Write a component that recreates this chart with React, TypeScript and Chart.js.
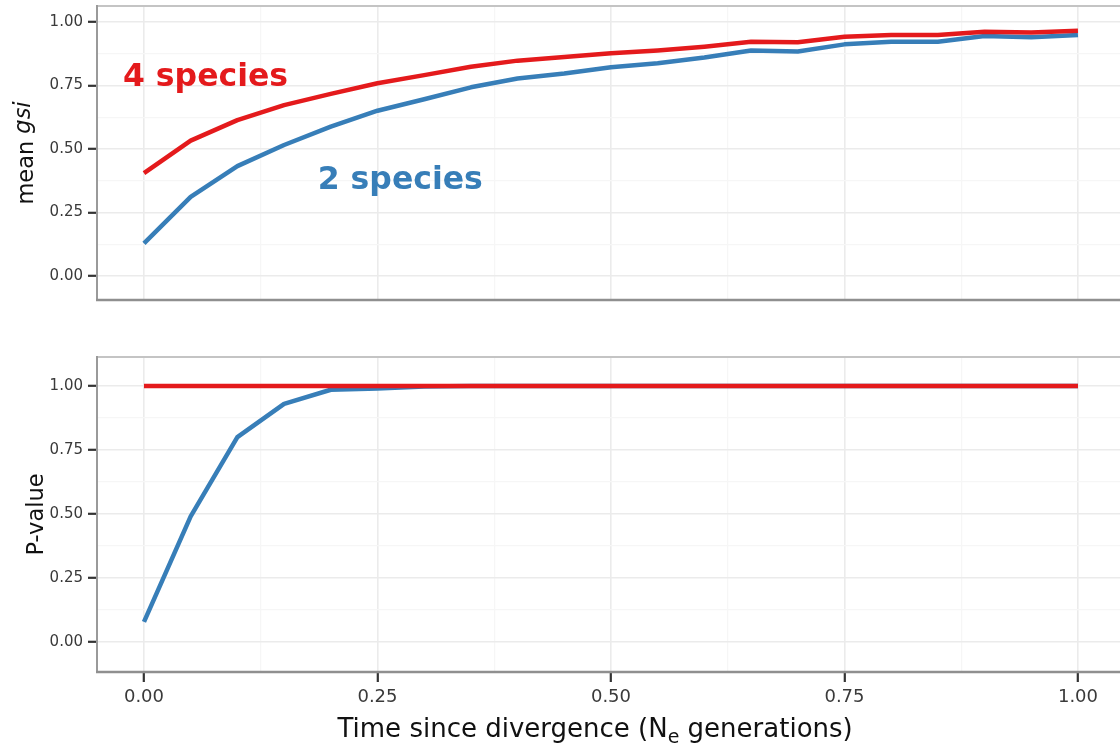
import React, { useEffect, useRef } from 'react';
import { Chart, registerables } from 'chart.js';

Chart.register(...registerables);

// ---------- data ----------
const times = [0, 0.05, 0.1, 0.15, 0.2, 0.25, 0.3, 0.35, 0.4, 0.45, 0.5, 0.55, 0.6, 0.65, 0.7, 0.75, 0.8, 0.85, 0.9, 0.95, 1.0];
const gsiTwo = [0.129, 0.312, 0.433, 0.516, 0.588, 0.651, 0.696, 0.743, 0.778, 0.797, 0.822, 0.838, 0.86, 0.888, 0.884, 0.912, 0.922, 0.922, 0.945, 0.94, 0.949];
const gsiFour = [0.405, 0.533, 0.614, 0.673, 0.717, 0.759, 0.791, 0.824, 0.848, 0.862, 0.877, 0.888, 0.903, 0.922, 0.92, 0.942, 0.949, 0.949, 0.962, 0.959, 0.966];
const pTwo = [0.078, 0.49, 0.8, 0.93, 0.985, 0.99, 0.998, 1, 1, 1, 1, 1, 1, 1, 1, 1, 1, 1, 1, 1, 1];
const pFour = [1, 1, 1, 1, 1, 1, 1, 1, 1, 1, 1, 1, 1, 1, 1, 1, 1, 1, 1, 1, 1];
const gridValues = [0, 0.125, 0.25, 0.375, 0.5, 0.625, 0.75, 0.875, 1];
const labelFour = '4 species';
const labelTwo = '2 species';
const topYTitle = ['mean ', 'gsi'];
const bottomYTitle = 'P-value';
const xTitle = ['Time since divergence (N', 'e', ' generations)'];

// ---------- style ----------
const FONT = '"DejaVu Sans", Verdana, sans-serif';
const RED = '#e41a1c';
const BLUE = '#377eb8';

const isMajor = (v: number) => Math.abs(v * 4 - Math.round(v * 4)) < 1e-6;

function setGridTicks(scale: any) {
  scale.ticks = gridValues.map((v) => ({ value: v }));
}

function gridOpts(tickLen: number) {
  return {
    color: (c: any) => (c.tick && isMajor(c.tick.value) ? '#ebebeb' : '#f6f6f6'),
    lineWidth: (c: any) => (c.tick && isMajor(c.tick.value) ? 1.6 : 1.2),
    tickColor: (c: any) => (c.tick && isMajor(c.tick.value) ? '#333333' : 'rgba(0,0,0,0)'),
    tickLength: tickLen,
    tickWidth: 2.2,
    drawTicks: tickLen > 0,
  };
}

function zeroPad(s: any) {
  s.paddingTop = 0;
  s.paddingBottom = 0;
  s.paddingLeft = 0;
  s.paddingRight = 0;
}

function panelPlugin(opts: { ytitle: (ctx: CanvasRenderingContext2D, area: any) => void; extra?: (chart: any) => void }) {
  return {
    id: 'panelDeco',
    afterDatasetsDraw(chart: any) {
      const { ctx, chartArea: a } = chart;
      ctx.save();
      ctx.lineCap = 'butt';
      ctx.strokeStyle = '#c4c4c4';
      ctx.lineWidth = 2;
      ctx.beginPath();
      ctx.moveTo(a.left, a.top);
      ctx.lineTo(a.right + 10, a.top);
      ctx.stroke();
      ctx.strokeStyle = '#9a9a9a';
      ctx.lineWidth = 2;
      ctx.beginPath();
      ctx.moveTo(a.left, a.top - 1);
      ctx.lineTo(a.left, a.bottom);
      ctx.stroke();
      ctx.strokeStyle = '#8f8f8f';
      ctx.lineWidth = 2.6;
      ctx.beginPath();
      ctx.moveTo(a.left - 1, a.bottom);
      ctx.lineTo(a.right + 10, a.bottom);
      ctx.stroke();
      opts.ytitle(ctx, a);
      if (opts.extra) opts.extra(chart);
      ctx.restore();
    },
  };
}

function yScale(min: number, max: number) {
  return {
    type: 'linear',
    min,
    max,
    afterBuildTicks: setGridTicks,
    afterFit: (s: any) => {
      s.width = 97;
      zeroPad(s);
    },
    border: { display: false },
    grid: gridOpts(9),
    ticks: {
      autoSkip: false,
      padding: 5,
      color: '#3a3a3a',
      font: { family: FONT, size: 15 },
      callback: (v: any) => (isMajor(Number(v)) ? Number(v).toFixed(2) : ''),
    },
  };
}

const X_MIN = -0.0503;
const X_MAX = 1.045;

function lineDataset(label: string, ys: number[], color: string) {
  return {
    label,
    data: times.map((t, i) => ({ x: t, y: ys[i] })),
    borderColor: color,
    borderWidth: 4.5,
    pointRadius: 0,
    tension: 0,
    borderJoinStyle: 'round',
  };
}

function TopPanel() {
  const ref = useRef<HTMLCanvasElement>(null);
  useEffect(() => {
    const chart = new Chart(ref.current!, {
      type: 'line',
      data: {
        datasets: [lineDataset(labelFour, gsiFour, RED), lineDataset(labelTwo, gsiTwo, BLUE)],
      },
      options: {
        animation: false,
        responsive: false,
        events: [],
        layout: { padding: { top: 6, bottom: 10, left: 0, right: 0 } },
        plugins: { legend: { display: false }, tooltip: { enabled: false } },
        scales: {
          x: {
            type: 'linear',
            min: X_MIN,
            max: X_MAX,
            afterBuildTicks: setGridTicks,
            afterFit: (s: any) => {
              s.height = 0;
              zeroPad(s);
            },
            border: { display: false },
            grid: gridOpts(0),
            ticks: { display: false },
          },
          y: yScale(-0.094, 1.063),
        },
      } as any,
      plugins: [
        panelPlugin({
          ytitle: (ctx, a) => {
            ctx.font = `22.5px ${FONT}`;
            const w1 = ctx.measureText(topYTitle[0]).width;
            ctx.font = `italic 22.5px ${FONT}`;
            const w2 = ctx.measureText(topYTitle[1]).width;
            const cy = (a.top + a.bottom) / 2;
            ctx.translate(33, cy);
            ctx.rotate(-Math.PI / 2);
            ctx.fillStyle = '#111';
            ctx.textBaseline = 'alphabetic';
            ctx.textAlign = 'left';
            const start = -(w1 + w2) / 2;
            ctx.font = `22.5px ${FONT}`;
            ctx.fillText(topYTitle[0], start, 0);
            ctx.font = `italic 22.5px ${FONT}`;
            ctx.fillText(topYTitle[1], start + w1, -3);
            ctx.setTransform(1, 0, 0, 1, 0, 0);
          },
          extra: (chart) => {
            const { ctx, scales } = chart;
            ctx.font = `bold 31.5px ${FONT}`;
            ctx.textAlign = 'left';
            ctx.textBaseline = 'alphabetic';
            ctx.fillStyle = RED;
            ctx.fillText(labelFour, scales.x.getPixelForValue(-0.0225), scales.y.getPixelForValue(0.75));
            ctx.fillStyle = BLUE;
            ctx.fillText(labelTwo, scales.x.getPixelForValue(0.186), scales.y.getPixelForValue(0.343));
          },
        }),
      ],
    });
    return () => chart.destroy();
  }, []);
  return <canvas ref={ref} width={1120} height={310} style={{ position: 'absolute', left: 0, top: 0 }} />;
}

function BottomPanel() {
  const ref = useRef<HTMLCanvasElement>(null);
  useEffect(() => {
    const chart = new Chart(ref.current!, {
      type: 'line',
      data: {
        datasets: [lineDataset(labelFour, pFour, RED), lineDataset(labelTwo, pTwo, BLUE)],
      },
      options: {
        animation: false,
        responsive: false,
        events: [],
        layout: { padding: { top: 17, bottom: 0, left: 0, right: 0 } },
        plugins: { legend: { display: false }, tooltip: { enabled: false } },
        scales: {
          x: {
            type: 'linear',
            min: X_MIN,
            max: X_MAX,
            afterBuildTicks: setGridTicks,
            afterFit: (s: any) => {
              s.height = 74;
              zeroPad(s);
            },
            border: { display: false },
            grid: gridOpts(10),
            ticks: {
              autoSkip: false,
              maxRotation: 0,
              padding: 5,
              color: '#3a3a3a',
              font: { family: FONT, size: 18 },
              callback: (v: any) => (isMajor(Number(v)) ? Number(v).toFixed(2) : ''),
            },
          },
          y: yScale(-0.118, 1.113),
        },
      } as any,
      plugins: [
        panelPlugin({
          ytitle: (ctx, a) => {
            ctx.font = `22.5px ${FONT}`;
            const cy = (a.top + a.bottom) / 2;
            ctx.translate(43, cy);
            ctx.rotate(-Math.PI / 2);
            ctx.fillStyle = '#111';
            ctx.textAlign = 'center';
            ctx.textBaseline = 'alphabetic';
            ctx.fillText(bottomYTitle, 0, 0);
            ctx.setTransform(1, 0, 0, 1, 0, 0);
          },
          extra: (chart) => {
            const { ctx, scales } = chart;
            const main = `26px ${FONT}`;
            const sub = `19px ${FONT}`;
            ctx.font = main;
            const w1 = ctx.measureText(xTitle[0]).width;
            const w3 = ctx.measureText(xTitle[2]).width;
            ctx.font = sub;
            const w2 = ctx.measureText(xTitle[1]).width;
            const cx = scales.x.getPixelForValue(0.483);
            const base = 397;
            let x = cx - (w1 + w2 + w3) / 2;
            ctx.fillStyle = '#111';
            ctx.textAlign = 'left';
            ctx.textBaseline = 'alphabetic';
            ctx.font = main;
            ctx.fillText(xTitle[0], x, base);
            x += w1;
            ctx.font = sub;
            ctx.fillText(xTitle[1], x, base + 6);
            x += w2;
            ctx.font = main;
            ctx.fillText(xTitle[2], x, base);
          },
        }),
      ],
    });
    return () => chart.destroy();
  }, []);
  return <canvas ref={ref} width={1120} height={406} style={{ position: 'absolute', left: 0, top: 340 }} />;
}

export default function App() {
  return (
    <div style={{ position: 'absolute', left: 0, top: 0, width: 1120, height: 746, background: '#ffffff', overflow: 'hidden' }}>
      <TopPanel />
      <BottomPanel />
    </div>
  );
}
